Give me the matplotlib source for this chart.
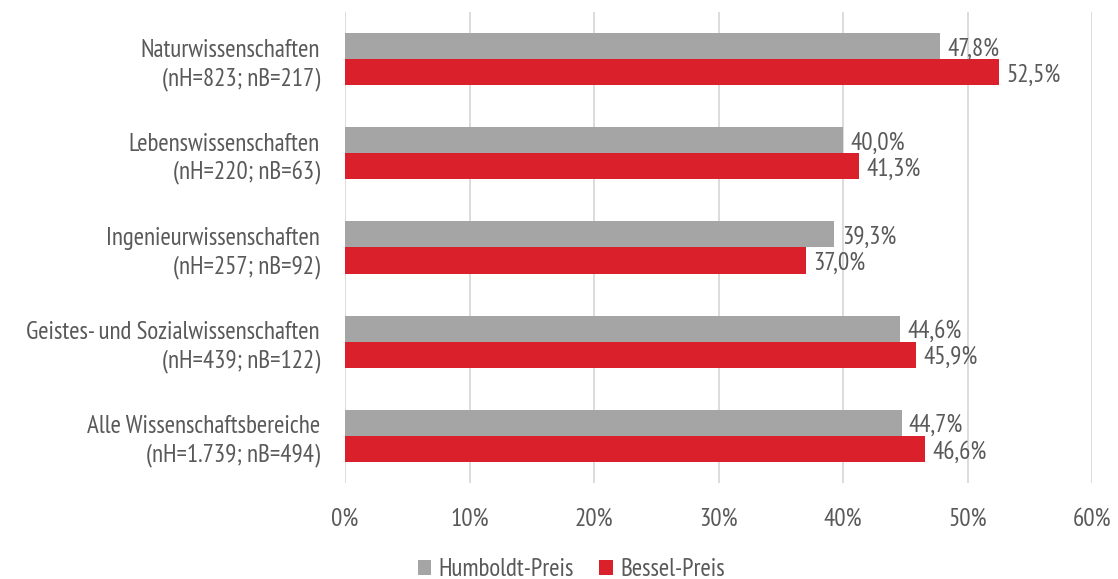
import numpy as np
import matplotlib.pyplot as plt
from matplotlib import font_manager

categories = [
    "Naturwissenschaften\n(nH=823; nB=217)",
    "Lebenswissenschaften\n(nH=220; nB=63)",
    "Ingenieurwissenschaften\n(nH=257; nB=92)",
    "Geistes- und Sozialwissenschaften\n(nH=439; nB=122)",
    "Alle Wissenschaftsbereiche\n(nH=1.739; nB=494)",
]
humboldt = [47.8, 40.0, 39.3, 44.6, 44.7]
bessel = [52.5, 41.3, 37.0, 45.9, 46.6]
xticks = [0, 10, 20, 30, 40, 50, 60]

names = {f.name for f in font_manager.fontManager.ttflist}
family = "DejaVu Sans"
for cand in ["PT Sans Narrow", "Archivo Narrow", "Roboto Condensed", "Liberation Sans Narrow"]:
    if cand in names:
        family = cand
        break
plt.rcParams["font.family"] = [family, "DejaVu Sans"]

text_col = "#595959"
gray = "#A5A5A5"
red = "#DA202B"
fs = 18

fig = plt.figure(figsize=(11.18, 5.79), dpi=100)
ax = fig.add_axes([345 / 1118, 1 - 483 / 579, (1092 - 345) / 1118, (483 - 12) / 579])

y = np.arange(len(categories))
h = 0.278
ax.barh(y - h / 2, humboldt, height=h, color=gray, label="Humboldt-Preis", zorder=2)
ax.barh(y + h / 2, bessel, height=h, color=red, label="Bessel-Preis", zorder=2)

for i in range(len(categories)):
    ax.text(humboldt[i] + 0.6, y[i] - h / 2 + 0.03, f"{humboldt[i]:.1f}%".replace(".", ","),
            va="center", ha="left", fontsize=fs, color=text_col)
    ax.text(bessel[i] + 0.6, y[i] + h / 2 + 0.03, f"{bessel[i]:.1f}%".replace(".", ","),
            va="center", ha="left", fontsize=fs, color=text_col)

ax.set_ylim(len(categories) - 0.5, -0.5)
ax.set_xlim(0, 60)
ax.set_yticks(y)
ax.set_yticklabels(categories, fontsize=fs, color=text_col, linespacing=1.3)
ax.set_xticks(xticks)
ax.set_xticklabels([f"{t}%" for t in xticks], fontsize=fs, color=text_col)
ax.tick_params(axis="both", length=0)
ax.tick_params(axis="y", pad=18)
ax.tick_params(axis="x", pad=18)
ax.grid(axis="x", color="#D9D9D9", linewidth=1.3, zorder=0)
for s in ax.spines.values():
    s.set_visible(False)

leg = fig.legend(loc="lower center", bbox_to_anchor=(0.511, -0.008), ncol=2, frameon=False,
                 fontsize=fs, handlelength=0.55, handleheight=0.55, handletextpad=0.3,
                 columnspacing=1.0, borderaxespad=0, borderpad=0.1)
for t in leg.get_texts():
    t.set_color(text_col)

fig.savefig("out.png", dpi=100)
